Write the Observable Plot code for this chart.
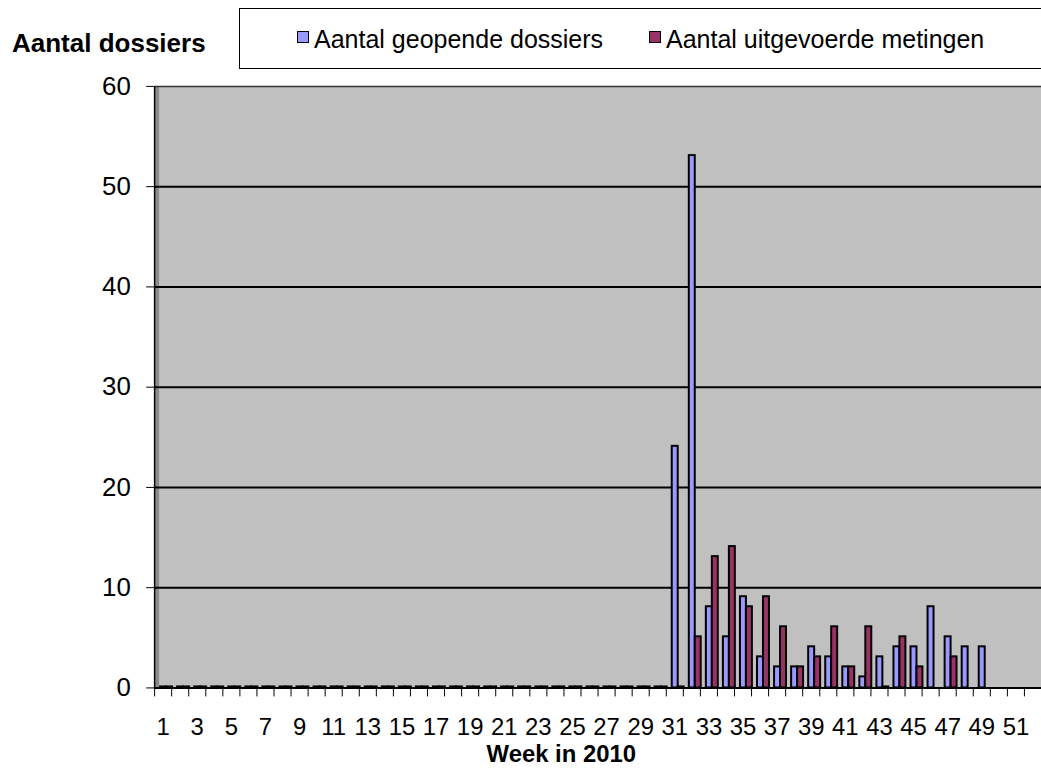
<!DOCTYPE html>
<html>
<head>
<meta charset="utf-8">
<script src="https://cdn.jsdelivr.net/npm/d3@7"></script>
<script src="https://cdn.jsdelivr.net/npm/@observablehq/plot@0.6"></script>
<style>
  html, body { margin: 0; padding: 0; background: #fff; overflow: hidden; width: 1041px; height: 771px; }
  body { position: relative; font-family: "Liberation Sans", Arial, sans-serif; color: #000; }
  #header { position: absolute; left: 0; top: 0; width: 1041px; height: 70px; }
  #title { position: absolute; left: 12px; top: 30px; font-size: 26px; line-height: 26px; font-weight: bold; white-space: nowrap; }
  #legend { position: absolute; left: 239px; top: 8px; width: 820px; height: 59px; border: 1px solid #000; background: #fff; }
  .sw { position: absolute; top: 22px; width: 10px; height: 10px; border: 1.5px solid #000; }
  .lt { position: absolute; top: 18px; font-size: 25px; line-height: 25px; white-space: nowrap; }
  #chart { position: absolute; left: 0; top: 70px; }
</style>
</head>
<body>
<div id="header">
  <div id="title"></div>
  <div id="legend"></div>
</div>
<div id="chart"></div>
<script>
// ---- data ----
const weeks = [1,2,3,4,5,6,7,8,9,10,11,12,13,14,15,16,17,18,19,20,21,22,23,24,25,26,
               27,28,29,30,31,32,33,34,35,36,37,38,39,40,41,42,43,44,45,46,47,48,49,50,51,52];
const weekTickLabels = [1,3,5,7,9,11,13,15,17,19,21,23,25,27,29,31,33,35,37,39,41,43,45,47,49,51];
const geopendeDossiers = [0,0,0,0,0,0,0,0,0,0,0,0,0,0,0,0,0,0,0,0,0,0,0,0,0,0,0,0,0,0,
                          24,53,8,5,9,3,2,2,4,3,2,1,3,4,4,8,5,4,4,null,null,null];
const uitgevoerdeMetingen = [0,0,0,0,0,0,0,0,0,0,0,0,0,0,0,0,0,0,0,0,0,0,0,0,0,0,0,0,0,0,
                             0,5,13,14,8,9,6,2,3,6,2,6,0,5,2,null,3,null,null,null,null,null];
const yTicks = [0,10,20,30,40,50,60];
const seriesNames = ["Aantal geopende dossiers", "Aantal uitgevoerde metingen"];
const seriesColors = ["#9999FF", "#993366"];
const titleText = "Aantal dossiers";
const xTitle = "Week in 2010";

// ---- header (title + legend) ----
document.getElementById("title").textContent = titleText;
const legend = document.getElementById("legend");
const legendX = [[57, 74], [409, 426]];
seriesNames.forEach((name, i) => {
  const sw = document.createElement("div");
  sw.className = "sw";
  sw.style.left = legendX[i][0] + "px";
  sw.style.background = seriesColors[i];
  legend.appendChild(sw);
  const t = document.createElement("div");
  t.className = "lt";
  t.style.left = legendX[i][1] + "px";
  t.textContent = name;
  legend.appendChild(t);
});

// ---- table ----
const rows = weeks.map((w, i) => ({week: w, a: geopendeDossiers[i], b: uitgevoerdeMetingen[i]}));

const W = 1047, H = 701, ML = 155, MR = 0, MT = 16, MB = 80;
const band = (W - ML - MR) / weeks.length;

const chart = Plot.plot({
  width: W,
  height: H,
  marginLeft: ML,
  marginRight: MR,
  marginTop: MT,
  marginBottom: MB,
  style: {fontFamily: "'Liberation Sans', Arial, sans-serif", fontSize: "26px", color: "#000", background: "transparent", overflow: "visible"},
  x: {type: "band", domain: weeks, padding: 0, round: false, axis: null},
  y: {domain: [0, 60], axis: null},
  marks: [
    Plot.frame({fill: "#C0C0C0"}),
    // left wall
    Plot.ruleX([weeks[0]], {dx: -band / 2 + 2.5, stroke: "#8a8a8a", strokeWidth: 4}),
    Plot.ruleY(yTicks.filter(d => d > 0 && d < 60), {stroke: "#000", strokeWidth: 2}),
    Plot.ruleY([60], {stroke: "#333", strokeWidth: 1.5}),
    Plot.ruleX([weeks[0]], {dx: -band / 2, stroke: "#000", strokeWidth: 1.5}),
    // bars
    Plot.barY(rows.filter(d => d.a != null), {
      x: "week", y: "a", fill: seriesColors[0], stroke: "#000", strokeWidth: 2,
      insetLeft: 6, insetRight: band - 12, insetTop: -1
    }),
    Plot.barY(rows.filter(d => d.b != null), {
      x: "week", y: "b", fill: seriesColors[1], stroke: "#000", strokeWidth: 2,
      insetLeft: 6, insetRight: band - 12, insetTop: -1, dx: 6
    }),
    Plot.ruleY([0], {stroke: "#000", strokeWidth: 2}),
    // y axis
    Plot.axisY({ticks: yTicks, tickSize: 8, tickPadding: 16, label: null, fontSize: 26}),
    // x axis boundary ticks
    Plot.axisX({ticks: weeks, tickSize: 9, tickFormat: () => "", dx: -band / 2, label: null}),
    // x axis labels
    Plot.axisX({ticks: weekTickLabels, tickSize: 0, tickPadding: 30, label: null, fontSize: 24}),
    // x title
    Plot.text([xTitle], {frameAnchor: "bottom", lineAnchor: "top", dy: 57.5, dx: -37, fontWeight: "bold", fontSize: 24})
  ]
});
document.getElementById("chart").appendChild(chart);
</script>
</body>
</html>
